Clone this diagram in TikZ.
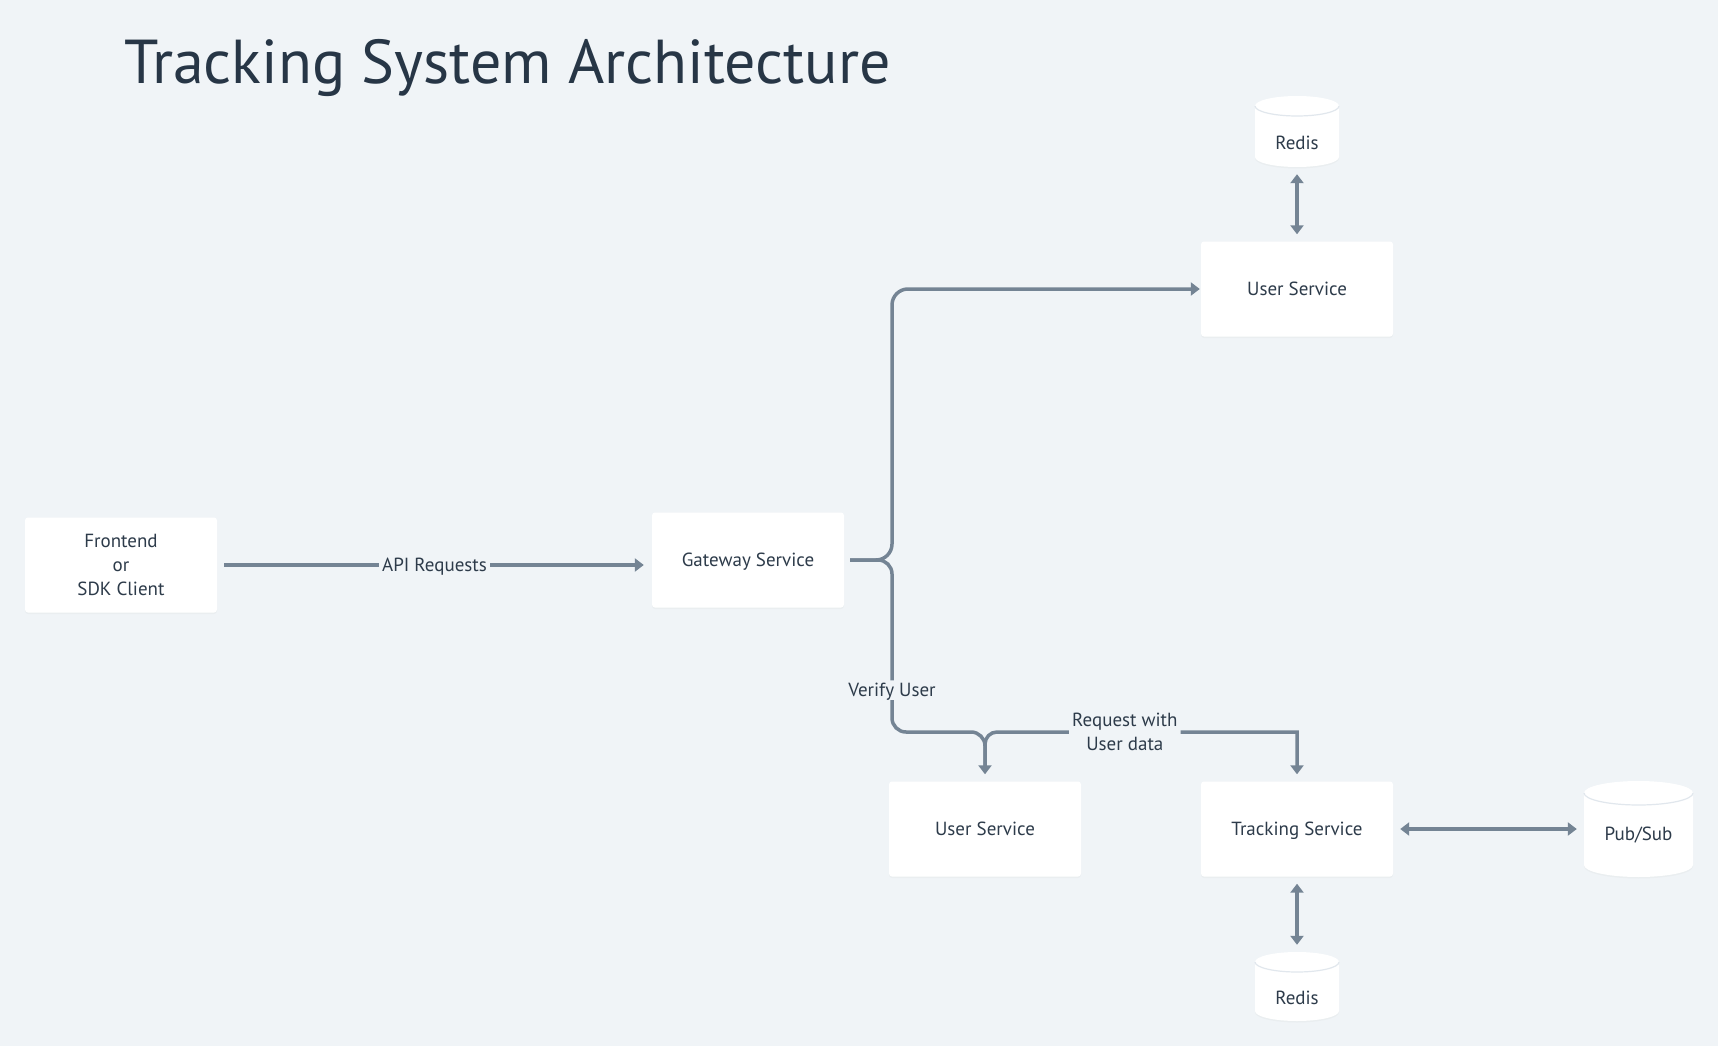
\documentclass[tikz,border=0pt]{standalone}
\usepackage{fontspec}
\setmainfont{PT Sans}
\usetikzlibrary{arrows.meta,shadows,calc}
\definecolor{bg}{HTML}{F0F4F7}
\definecolor{ln}{HTML}{748494}
\definecolor{tx}{HTML}{2D3B4A}
\definecolor{ttl}{HTML}{273646}
\definecolor{cylrim}{HTML}{E1E7ED}
\newcommand\dbcyl[5]{%
  \pgfmathsetmacro\cxr{(#3-#1)/2}%
  \fill[white, drop shadow={shadow xshift=0pt, shadow yshift=-1.5pt, opacity=0.05}]
    (#1,-#2-#5) arc[start angle=180,end angle=0,x radius=\cxr,y radius=#5]
    -- (#3,-#4+#5) arc[start angle=0,end angle=-180,x radius=\cxr,y radius=#5] -- cycle;
  \draw[cylrim, line width=1.2pt] (#1,-#2-#5) arc[start angle=180,end angle=360,x radius=\cxr,y radius=#5];
}
\tikzset{
  box/.style={fill=white, rounded corners=3pt, minimum width=192pt, minimum height=95pt,
    align=center, font=\fontsize{19}{24}\selectfont, text=tx, inner sep=0pt, text depth=0pt,
    drop shadow={shadow xshift=0pt, shadow yshift=-1.5pt, opacity=0.05}},
  cylnode/.style={inner sep=0pt, draw=none},
  cyltext/.style={font=\fontsize{19}{24}\selectfont, text=tx, inner sep=0pt},
  lbl/.style={fill=bg, text=tx, font=\fontsize{19}{24}\selectfont, inner sep=3pt, align=center, text depth=0pt},
  conn/.style={draw=ln, line width=3.5pt, -{Triangle[width=13pt,length=9pt]}},
  dconn/.style={draw=ln, line width=3.5pt, {Triangle[width=13pt,length=9pt]}-{Triangle[width=13pt,length=9pt]},
    shorten <=7pt, shorten >=7pt},
}
\begin{document}
\begin{tikzpicture}[x=1pt,y=1pt]
\fill[bg] (0,0) rectangle (1718,-1046);
\useasboundingbox (0,0) rectangle (1718,-1046);

% title
\node[anchor=base west, text=ttl, font=\fontsize{62}{64}\selectfont, inner sep=0pt] (title) at (124,-84) {Tracking System Architecture};

% cylinders
\dbcyl{1255}{96}{1339}{167}{10}
\dbcyl{1255}{952}{1339}{1021}{10}
\dbcyl{1584}{781}{1693}{877}{12}
\node[cylnode, minimum width=84pt, minimum height=71pt] (rd1) at (1297,-131.5) {};
\node[cyltext] (rd1t) at (1297,-142.5) {Redis};
\node[cylnode, minimum width=84pt, minimum height=69pt] (rd2) at (1297,-986.5) {};
\node[cyltext] (rd2t) at (1297,-998) {Redis};
\node[cylnode, minimum width=109pt, minimum height=96pt] (ps) at (1638.5,-829) {};
\node[cyltext] (pst) at (1638.5,-835) {Pub/Sub};

% boxes
\node[box] (fe) at (121,-565) {Frontend\\or\\SDK Client};
\node[box] (gw) at (748,-560) {Gateway Service};
\node[box] (usr1) at (1297,-289) {User Service};
\node[box] (usb) at (985,-829) {User Service};
\node[box] (trk) at (1297,-829) {Tracking Service};

\coordinate (b) at (892,-560);
\coordinate (j) at (985,-732);
\coordinate (k) at (j -| trk.north);

% connectors
\draw[conn, shorten <=7pt, shorten >=8pt] (fe.east) -- node[lbl]{API Requests} (fe.east -| gw.west);
\draw[conn, rounded corners=16pt, shorten <=6pt, shorten >=1pt] (gw.east) -- (b) |- (usr1.west);
\draw[conn, rounded corners=14pt, shorten <=6pt, shorten >=7pt] (gw.east) -- (b) |- node[lbl, pos=0.378]{Verify User} (j) -- (usb.north);
\draw[conn, shorten <=12pt, shorten >=7pt] (usb.north) {[rounded corners=12pt] -- (j) -- node[lbl, pos=0.479]{Request with\\User data} ([xshift=-20pt]k)} -- (k) -- (trk.north);
\draw[dconn] (rd1.south) -- (usr1.north);
\draw[dconn] (trk.south) -- (rd2.north);
\draw[dconn] (trk.east) -- (ps.west);
\end{tikzpicture}
\end{document}
